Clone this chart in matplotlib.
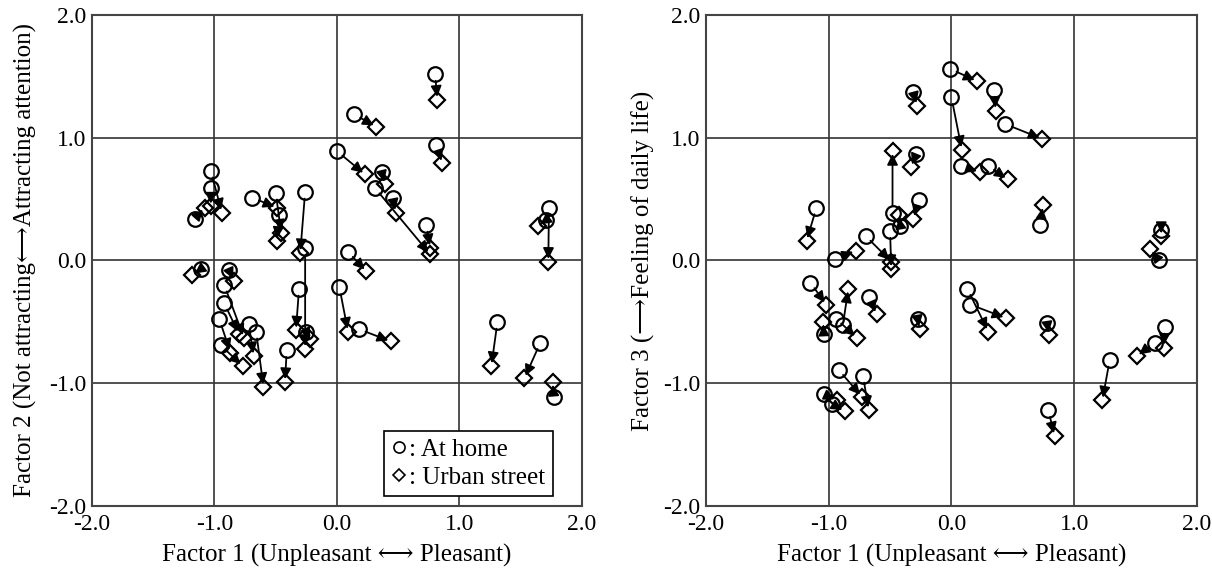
import matplotlib.pyplot as plt
from matplotlib.lines import Line2D

plt.rcParams['font.family'] = ['Liberation Serif', 'DejaVu Serif', 'DejaVu Sans']

# Factor 1 / Factor 2 (left) : at home -> urban street
home_f1_left = [0.80, 0.14, 0.81, 0.00, 0.365, 0.31, 0.73, 0.455, 0.09, 1.73, 1.71,
                -1.03, -1.03, -1.16, -0.69, -0.50, -0.47, -0.26, -1.11, -0.88, -0.92,
                -0.92, -0.96, -0.95, -0.72, -0.66, -0.41, -0.31, -0.26, -0.25, 0.02,
                0.18, 1.31, 1.66, 1.77]
home_f2_left = [1.52, 1.19, 0.94, 0.89, 0.72, 0.59, 0.29, 0.51, 0.07, 0.43, 0.33,
                0.73, 0.59, 0.34, 0.51, 0.55, 0.37, 0.56, -0.07, -0.08, -0.20,
                -0.35, -0.48, -0.69, -0.52, -0.58, -0.73, -0.23, 0.10, -0.58, -0.22,
                -0.56, -0.50, -0.67, -1.11]
street_f1_left = [0.82, 0.32, 0.86, 0.23, 0.39, 0.76, 0.76, 0.48, 0.24, 1.725, 1.64,
                  -0.94, -1.03, -1.08, -0.49, -0.455, -0.49, -0.30, -1.18, -0.84, -0.76,
                  -0.80, -0.87, -0.77, -0.68, -0.60, -0.425, -0.335, -0.26, -0.22, 0.09,
                  0.44, 1.26, 1.53, 1.76]
street_f2_left = [1.31, 1.09, 0.79, 0.70, 0.62, 0.05, 0.10, 0.39, -0.09, -0.01, 0.28,
                  0.39, 0.44, 0.43, 0.43, 0.22, 0.16, 0.06, -0.12, -0.17, -0.63,
                  -0.60, -0.75, -0.86, -0.78, -1.03, -0.99, -0.57, -0.72, -0.64, -0.58,
                  -0.66, -0.86, -0.96, -0.99]

# Factor 1 / Factor 3 (right)
home_f1_right = [-0.01, 0.00, 0.35, 0.44, -0.31, -0.285, -0.265, -0.48, -0.415, -1.10,
                 -0.945, -0.70, -0.50, 0.08, 0.30, 0.725, 1.71, 1.69, -1.15, -0.885,
                 -0.94, -1.04, -0.67, -0.275, -0.92, -0.72, -1.04, -0.97, 0.13, 0.155,
                 0.78, 0.79, 1.29, 1.74, 1.655]
home_f3_right = [1.56, 1.33, 1.39, 1.11, 1.37, 0.87, 0.49, 0.385, 0.28, 0.43,
                 0.01, 0.20, 0.24, 0.77, 0.77, 0.29, 0.245, 0.00, -0.18, -0.53,
                 -0.475, -0.60, -0.30, -0.475, -0.89, -0.94, -1.09, -1.17, -0.23, -0.36,
                 -0.51, -1.22, -0.81, -0.54, -0.67]
street_f1_right = [0.21, 0.085, 0.36, 0.74, -0.28, -0.33, -0.31, -0.48, -0.43, -1.18,
                   -0.78, -0.49, -0.49, 0.23, 0.46, 0.745, 1.71, 1.62, -1.02, -0.84,
                   -0.77, -1.045, -0.61, -0.26, -0.73, -0.675, -0.93, -0.87, 0.30, 0.445,
                   0.795, 0.84, 1.23, 1.73, 1.51]
street_f3_right = [1.46, 0.90, 1.22, 0.99, 1.26, 0.76, 0.34, 0.89, 0.37, 0.16,
                   0.08, -0.01, -0.07, 0.72, 0.66, 0.45, 0.20, 0.09, -0.36, -0.23,
                   -0.63, -0.50, -0.44, -0.56, -1.11, -1.22, -1.14, -1.23, -0.58, -0.47,
                   -0.61, -1.43, -1.14, -0.71, -0.78]

ticks = [-2.0, -1.0, 0.0, 1.0, 2.0]
tick_labels = ['-2.0', '-1.0', '0.0', '1.0', '2.0']
fs = 17
lfs = 18


def draw_panel(ax, hx, hy, ux, uy, ylabel, ypad):
    ax.set_xlim(-2, 2)
    ax.set_ylim(-2, 2)
    for v in [-1.0, 0.0, 1.0]:
        ax.axvline(v, color='#333333', lw=1.2, zorder=1)
        ax.axhline(v, color='#333333', lw=1.2, zorder=1)
    for i in range(len(hx)):
        ax.annotate('', xy=(ux[i], uy[i]), xytext=(hx[i], hy[i]),
                    arrowprops=dict(arrowstyle='-|>', color='black', lw=1.3,
                                    mutation_scale=16, shrinkA=5, shrinkB=2),
                    zorder=3)
    ax.plot(hx, hy, 'o', ms=10.5, mfc='none', mec='black', mew=1.6, zorder=4)
    ax.plot(ux, uy, 'D', ms=8.5, mfc='none', mec='black', mew=1.6, zorder=4)
    ax.set_xticks(ticks)
    ax.set_xticklabels(tick_labels)
    ax.set_yticks(ticks)
    ax.set_yticklabels(tick_labels)
    ax.tick_params(axis='y', length=0, labelsize=fs, pad=4)
    ax.tick_params(axis='x', length=0, labelsize=fs, pad=6)
    for s in ax.spines.values():
        s.set_color('#444444')
        s.set_linewidth(1.5)
    ax.set_xlabel('Factor 1 (Unpleasant \u27f7 Pleasant)', fontsize=lfs, labelpad=6)
    ax.set_ylabel(ylabel, fontsize=lfs, labelpad=ypad)


fig = plt.figure(figsize=(12.12, 5.73), dpi=100)
ax1 = fig.add_axes([0.0759, 0.117, 0.4043, 0.857])
ax2 = fig.add_axes([0.5825, 0.117, 0.405, 0.857])

draw_panel(ax1, home_f1_left, home_f2_left, street_f1_left, street_f2_left,
           'Factor 2 (Not attracting\u27f7Attracting attention)', 9)
draw_panel(ax2, home_f1_right, home_f3_right, street_f1_right, street_f3_right,
           'Factor 3 (\u27f6Feeling of daily life)', 6)

handles = [Line2D([], [], marker='o', ls='none', ms=8, mfc='none', mec='black', mew=1.2),
           Line2D([], [], marker='D', ls='none', ms=6.5, mfc='none', mec='black', mew=1.2)]
leg = ax1.legend(handles, [': At home', ': Urban street'], loc='lower right',
                 bbox_to_anchor=(0.941, 0.02), borderaxespad=0, fontsize=lfs,
                 handlelength=0.6, handletextpad=0.1, fancybox=False,
                 edgecolor='black', framealpha=1, borderpad=0.3, labelspacing=0.2)
leg.get_frame().set_linewidth(1.2)

fig.savefig('out.png', dpi=100)
